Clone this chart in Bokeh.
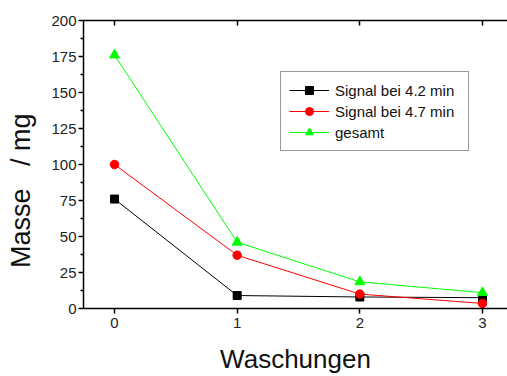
from bokeh.plotting import figure
from bokeh.models import LinearAxis, Legend, LegendItem, FixedTicker, Range1d
from bokeh.embed import file_html
from bokeh.resources import INLINE

washes = [0, 1, 2, 3]
signal_42 = [76, 9, 8, 7.5]
signal_47 = [100, 37, 10, 3.5]
total = [176, 46, 18.5, 11]
x_ticks = [0, 1, 2, 3]
y_ticks = [0, 25, 50, 75, 100, 125, 150, 175, 200]
y_minor = [12.5, 37.5, 62.5, 87.5, 112.5, 137.5, 162.5, 187.5]

FONT = "Liberation Sans"

p = figure(width=507, height=376, output_backend="svg", toolbar_location=None,
           x_range=Range1d(-0.253, 3.204), y_range=Range1d(0, 200),
           min_border_left=83, min_border_right=0, min_border_top=20, min_border_bottom=68)
p.outline_line_color = None
p.grid.visible = False
p.background_fill_color = "white"

for ax in (p.xaxis[0], p.yaxis[0]):
    ax.axis_line_width = 1.5
    ax.axis_line_color = "black"
    ax.major_tick_line_width = 1.5
    ax.minor_tick_line_width = 1.5
    ax.major_tick_line_color = "black"
    ax.minor_tick_line_color = "black"
    ax.major_label_text_font = FONT
    ax.major_label_text_font_size = "15px"
    ax.major_label_text_color = "#222222"
    ax.axis_label_text_font = FONT
    ax.axis_label_text_font_style = "normal"
    ax.axis_label_text_color = "#111111"

xa = p.xaxis[0]
xa.ticker = FixedTicker(ticks=x_ticks)
xa.major_tick_in = 0
xa.major_tick_out = 5
xa.minor_tick_out = 0
xa.major_label_standoff = 4
xa.axis_label = "Waschungen"
xa.axis_label_text_font_size = "26px"
xa.axis_label_standoff = 13

ya = p.yaxis[0]
ya.ticker = FixedTicker(ticks=y_ticks, minor_ticks=y_minor)
ya.major_tick_in = 0
ya.major_tick_out = 5
ya.minor_tick_in = 0
ya.minor_tick_out = 3
ya.major_label_standoff = 2
ya.axis_label = "Masse\u00a0\u00a0\u00a0/\u00a0mg" + "\u00a0" * 7
ya.axis_label_text_font_size = "27px"
ya.axis_label_standoff = 12

top = LinearAxis(ticker=FixedTicker(ticks=[], minor_ticks=x_ticks), axis_line_width=1.5,
                 major_tick_in=0, major_tick_out=0, minor_tick_out=0, minor_tick_in=5,
                 minor_tick_line_width=1.5, minor_tick_line_color="black")
p.add_layout(top, "above")

l1 = p.line(washes, signal_42, line_color="black", line_width=1)
m1 = p.scatter(washes, signal_42, marker="square", size=8, fill_color="black", line_color="black")
l2 = p.line(washes, signal_47, line_color="#ff0000", line_width=1)
m2 = p.scatter(washes, signal_47, marker="circle", size=8.5, fill_color="#ff0000", line_color="#ff0000")
l3 = p.line(washes, total, line_color="#00ff00", line_width=1)
m3 = p.scatter(washes, total, marker="triangle", size=10, fill_color="#00ff00", line_color="#00ff00")

legend = Legend(items=[
    LegendItem(label="Signal bei 4.2 min", renderers=[l1, m1]),
    LegendItem(label="Signal bei 4.7 min", renderers=[l2, m2]),
    LegendItem(label="gesamt", renderers=[l3, m3]),
], location=(197, 157))
legend.label_text_font = FONT
legend.label_text_font_size = "15px"
legend.label_text_color = "#111111"
legend.glyph_width = 40
legend.glyph_height = 20
legend.label_height = 20
legend.label_width = 125
legend.label_standoff = 6
legend.spacing = 1
legend.padding = 8
legend.margin = 0
legend.border_line_color = "#333333"
legend.border_line_width = 1.5
legend.background_fill_alpha = 1
p.add_layout(legend, "center")

open("out.html", "w").write(file_html(p, INLINE))
